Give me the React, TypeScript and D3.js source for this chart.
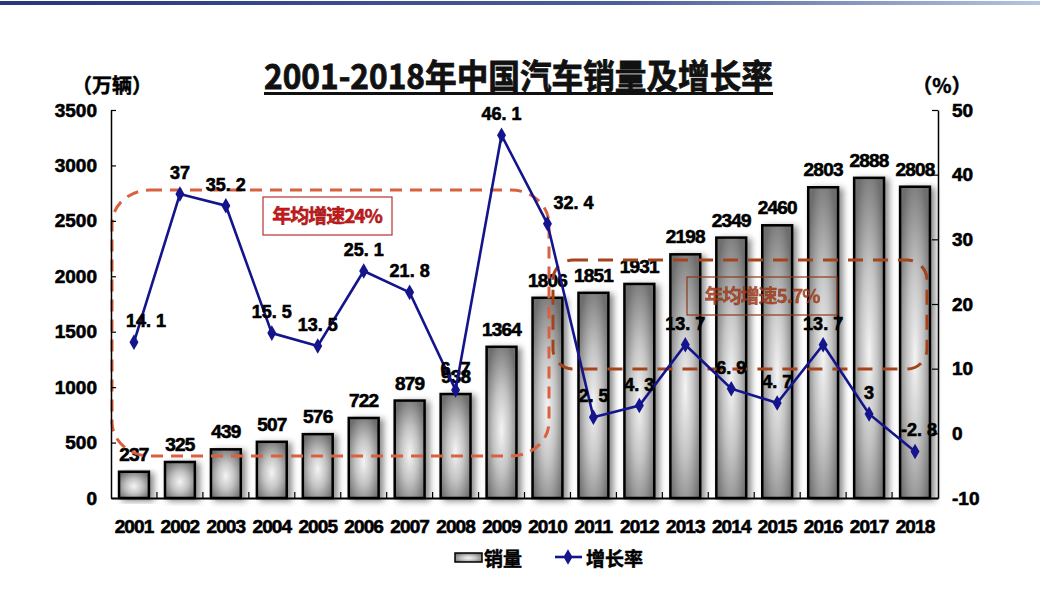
import { useEffect, useRef } from 'react';
import * as d3 from 'd3';

// 2001-2018 China auto sales (万辆) and growth rate (%)
const years = ['2001', '2002', '2003', '2004', '2005', '2006', '2007', '2008', '2009', '2010', '2011', '2012', '2013', '2014', '2015', '2016', '2017', '2018'];
const sales = [237, 325, 439, 507, 576, 722, 879, 938, 1364, 1806, 1851, 1931, 2198, 2349, 2460, 2803, 2888, 2808];
const growth = [14.1, 37, 35.2, 15.5, 13.5, 25.1, 21.8, 6.7, 46.1, 32.4, 2.5, 4.3, 13.7, 6.9, 4.7, 13.7, 3, -2.8];
const growthLabels = ['14. 1', '37', '35. 2', '15. 5', '13. 5', '25. 1', '21. 8', '6. 7', '46. 1', '32. 4', '2. 5', '4. 3', '13. 7', '6. 9', '4. 7', '13. 7', '3', '-2. 8'];
const leftTicks = [0, 500, 1000, 1500, 2000, 2500, 3000, 3500];
const rightTicks = [-10, 0, 10, 20, 30, 40, 50];

const TITLE = '2001-2018年中国汽车销量及增长率';
const NUM_FONT = '"Liberation Sans", Arial, sans-serif';
const CJK_FONT = '"Noto Sans CJK SC", "Liberation Sans", sans-serif';
const LINE_COLOR = '#14148c';

// small horizontal nudges for a few growth labels
const labelNudge: Record<string, number> = { '2001': 12, '2010': 26, '2018': 4 };

export default function App() {
  const svgRef = useRef<SVGSVGElement>(null);

  useEffect(() => {
    if (!svgRef.current) return;
    const W = 1040;
    const H = 616;
    const svg = d3.select(svgRef.current);
    svg.selectAll('*').remove();
    svg.attr('width', W).attr('height', H);

    const left = 111;
    const right = 938;
    const top = 110;
    const bottom = 498;

    const x = d3.scaleBand<string>().domain(years).range([left, right]).paddingInner(0.35).paddingOuter(0.175);
    const yL = d3.scaleLinear().domain([0, 3500]).range([bottom, top]);
    const yR = d3.scaleLinear().domain([-10, 50]).range([bottom, top]);
    const cx = (d: string) => (x(d) ?? 0) + x.bandwidth() / 2;

    const defs = svg.append('defs');
    const topGrad = defs.append('linearGradient').attr('id', 'topGrad');
    topGrad.append('stop').attr('offset', 0).attr('stop-color', '#24387a');
    topGrad.append('stop').attr('offset', 0.6).attr('stop-color', '#4a6098');
    topGrad.append('stop').attr('offset', 1).attr('stop-color', '#b4c4e0');

    const barGrad = defs.append('radialGradient').attr('id', 'barGrad').attr('cx', 0.5).attr('cy', 0.55).attr('r', 0.62);
    barGrad.append('stop').attr('offset', 0).attr('stop-color', '#f4f4f4');
    barGrad.append('stop').attr('offset', 0.45).attr('stop-color', '#c4c4c4');
    barGrad.append('stop').attr('offset', 1).attr('stop-color', '#6e6e6e');

    const shadow = defs.append('filter').attr('id', 'barShadow').attr('x', '-30%').attr('y', '-10%').attr('width', '170%').attr('height', '130%');
    shadow.append('feDropShadow').attr('dx', 4).attr('dy', 2).attr('stdDeviation', 3).attr('flood-color', '#000').attr('flood-opacity', 0.45);

    // top border line
    svg.append('rect').attr('x', 0).attr('y', 1).attr('width', W).attr('height', 4).attr('fill', 'url(#topGrad)');

    // title
    svg
      .append('text')
      .attr('x', 264)
      .attr('y', 89)
      .attr('textLength', 509)
      .attr('lengthAdjust', 'spacingAndGlyphs')
      .attr('font-family', CJK_FONT)
      .attr('font-weight', 'bold')
      .attr('font-size', 34)
      .attr('fill', '#111')
      .attr('stroke', '#111')
      .attr('stroke-width', 0.8)
      .text(TITLE);
    svg.append('rect').attr('x', 264).attr('y', 92).attr('width', 509).attr('height', 3).attr('fill', '#111');

    // unit labels
    const unit = (px: number, t: string) =>
      svg.append('text').attr('x', px).attr('y', 93).attr('text-anchor', 'middle').attr('font-family', CJK_FONT)
        .attr('font-weight', 'bold').attr('font-size', 20).attr('stroke', '#000').attr('stroke-width', 0.5).text(t);
    unit(112, '（万辆）');
    unit(942, '（%）');

    // bars
    svg
      .append('g')
      .selectAll('rect')
      .data(years)
      .join('rect')
      .attr('x', (d) => x(d) ?? 0)
      .attr('y', (_, i) => yL(sales[i]))
      .attr('width', x.bandwidth())
      .attr('height', (_, i) => bottom - yL(sales[i]))
      .attr('fill', 'url(#barGrad)')
      .attr('stroke', '#000')
      .attr('stroke-width', 2.5)
      .attr('filter', 'url(#barShadow)');

    // bar value labels
    svg
      .append('g')
      .selectAll('text')
      .data(years)
      .join('text')
      .attr('x', (d) => cx(d))
      .attr('y', (_, i) => yL(sales[i]) - 11)
      .attr('text-anchor', 'middle')
      .attr('font-family', NUM_FONT)
      .attr('font-weight', 'bold')
      .attr('font-size', 19)
      .attr('letter-spacing', -0.8)
      .attr('fill', '#000')
      .attr('stroke', '#000')
      .attr('stroke-width', 0.6)
      .text((_, i) => sales[i]);

    // dashed annotation boxes
    svg.append('rect').attr('x', 112).attr('y', 190).attr('width', 437).attr('height', 266).attr('rx', 38).attr('ry', 34)
      .attr('fill', 'none').attr('stroke', '#d9613f').attr('stroke-width', 3).attr('stroke-dasharray', '12 8');
    svg.append('rect').attr('x', 553).attr('y', 260).attr('width', 374).attr('height', 109).attr('rx', 20).attr('ry', 20)
      .attr('fill', 'none').attr('stroke', '#a3441d').attr('stroke-width', 3).attr('stroke-dasharray', '15 10');

    // annotation text boxes
    svg.append('rect').attr('x', 263).attr('y', 197).attr('width', 129).attr('height', 38).attr('fill', 'none').attr('stroke', '#b83030').attr('stroke-width', 1.2);
    svg.append('text').attr('x', 327).attr('y', 223).attr('text-anchor', 'middle').attr('font-family', CJK_FONT).attr('font-weight', 'bold')
      .attr('font-size', 19).attr('letter-spacing', -1).attr('fill', '#d01818').attr('stroke', '#8a1010').attr('stroke-width', 0.5).text('年均增速24%');
    svg.append('rect').attr('x', 687).attr('y', 277).attr('width', 150).attr('height', 38).attr('fill', 'none').attr('stroke', '#8e3a1c').attr('stroke-width', 1.2);
    svg.append('text').attr('x', 762).attr('y', 303).attr('text-anchor', 'middle').attr('font-family', CJK_FONT).attr('font-weight', 'bold')
      .attr('font-size', 19).attr('letter-spacing', -1).attr('fill', '#a83a1a').attr('stroke', '#7a2a10').attr('stroke-width', 0.4).attr('opacity', 0.85).text('年均增速5.7%');

    // axes
    const axL = svg
      .append('g')
      .attr('transform', `translate(${left},0)`)
      .call(d3.axisLeft(yL).tickValues(leftTicks).tickSizeInner(-5).tickSizeOuter(0).tickPadding(14).tickFormat((d) => `${d}`));
    const axR = svg
      .append('g')
      .attr('transform', `translate(${right},0)`)
      .call(d3.axisRight(yR).tickValues(rightTicks).tickSizeInner(-6).tickSizeOuter(0).tickPadding(14).tickFormat((d) => `${d}`));
    const axB = svg
      .append('g')
      .attr('transform', `translate(0,${bottom})`)
      .call(d3.axisBottom(x).tickSize(0).tickPadding(22));
    [axL, axR, axB].forEach((ax) => {
      ax.select('.domain').attr('stroke', '#000').attr('stroke-width', 1.5);
      ax.selectAll('line').attr('stroke', '#000').attr('stroke-width', 1.2);
      ax.selectAll('text').attr('font-family', NUM_FONT).attr('font-weight', 'bold').attr('font-size', 19)
        .attr('fill', '#000').attr('stroke', '#000').attr('stroke-width', 0.6);
    });
    axB.selectAll('text').attr('font-size', 19).attr('letter-spacing', -0.9);
    axB.select('.domain').attr('stroke-width', 2);

    // category boundary ticks pointing inward
    svg
      .append('g')
      .selectAll('line')
      .data(years.slice(1))
      .join('line')
      .attr('x1', (d) => (x(d) ?? 0) - x.step() * 0.175)
      .attr('x2', (d) => (x(d) ?? 0) - x.step() * 0.175)
      .attr('y1', bottom)
      .attr('y2', bottom - 6)
      .attr('stroke', '#000')
      .attr('stroke-width', 1.2);

    // growth line
    const line = d3
      .line<number>()
      .x((_, i) => cx(years[i]))
      .y((d) => yR(d));
    svg.append('path').datum(growth).attr('d', line).attr('fill', 'none').attr('stroke', LINE_COLOR).attr('stroke-width', 2.6);

    const diamond = d3.symbol().type(d3.symbolDiamond).size(70);
    svg
      .append('g')
      .selectAll('path')
      .data(growth)
      .join('path')
      .attr('d', diamond)
      .attr('transform', (d, i) => `translate(${cx(years[i])},${yR(d)})`)
      .attr('fill', LINE_COLOR);

    svg
      .append('g')
      .selectAll('text')
      .data(growth)
      .join('text')
      .attr('x', (_, i) => cx(years[i]) + (labelNudge[years[i]] ?? 0))
      .attr('y', (d) => yR(d) - 15)
      .attr('text-anchor', 'middle')
      .attr('font-family', NUM_FONT)
      .attr('font-weight', 'bold')
      .attr('font-size', 18)
      .attr('fill', '#000')
      .attr('stroke', '#000')
      .attr('stroke-width', 0.6)
      .text((_, i) => growthLabels[i]);

    // legend
    const lg = svg.append('g');
    lg.append('rect').attr('x', 455).attr('y', 553).attr('width', 27).attr('height', 9).attr('fill', 'url(#barGrad)').attr('stroke', '#000').attr('stroke-width', 1.5);
    lg.append('text').attr('x', 484).attr('y', 566).attr('font-family', CJK_FONT).attr('font-weight', 'bold').attr('font-size', 19)
      .attr('stroke', '#000').attr('stroke-width', 0.5).text('销量');
    lg.append('line').attr('x1', 555).attr('x2', 582).attr('y1', 557).attr('y2', 557).attr('stroke', LINE_COLOR).attr('stroke-width', 2.6);
    lg.append('path').attr('d', diamond).attr('transform', 'translate(568,557)').attr('fill', LINE_COLOR);
    lg.append('text').attr('x', 586).attr('y', 566).attr('font-family', CJK_FONT).attr('font-weight', 'bold').attr('font-size', 19)
      .attr('stroke', '#000').attr('stroke-width', 0.5).text('增长率');
  }, []);

  return (
    <div style={{ position: 'absolute', left: 0, top: 0, width: 1040, height: 616, background: '#fff' }}>
      <svg ref={svgRef} style={{ display: 'block' }} />
    </div>
  );
}
